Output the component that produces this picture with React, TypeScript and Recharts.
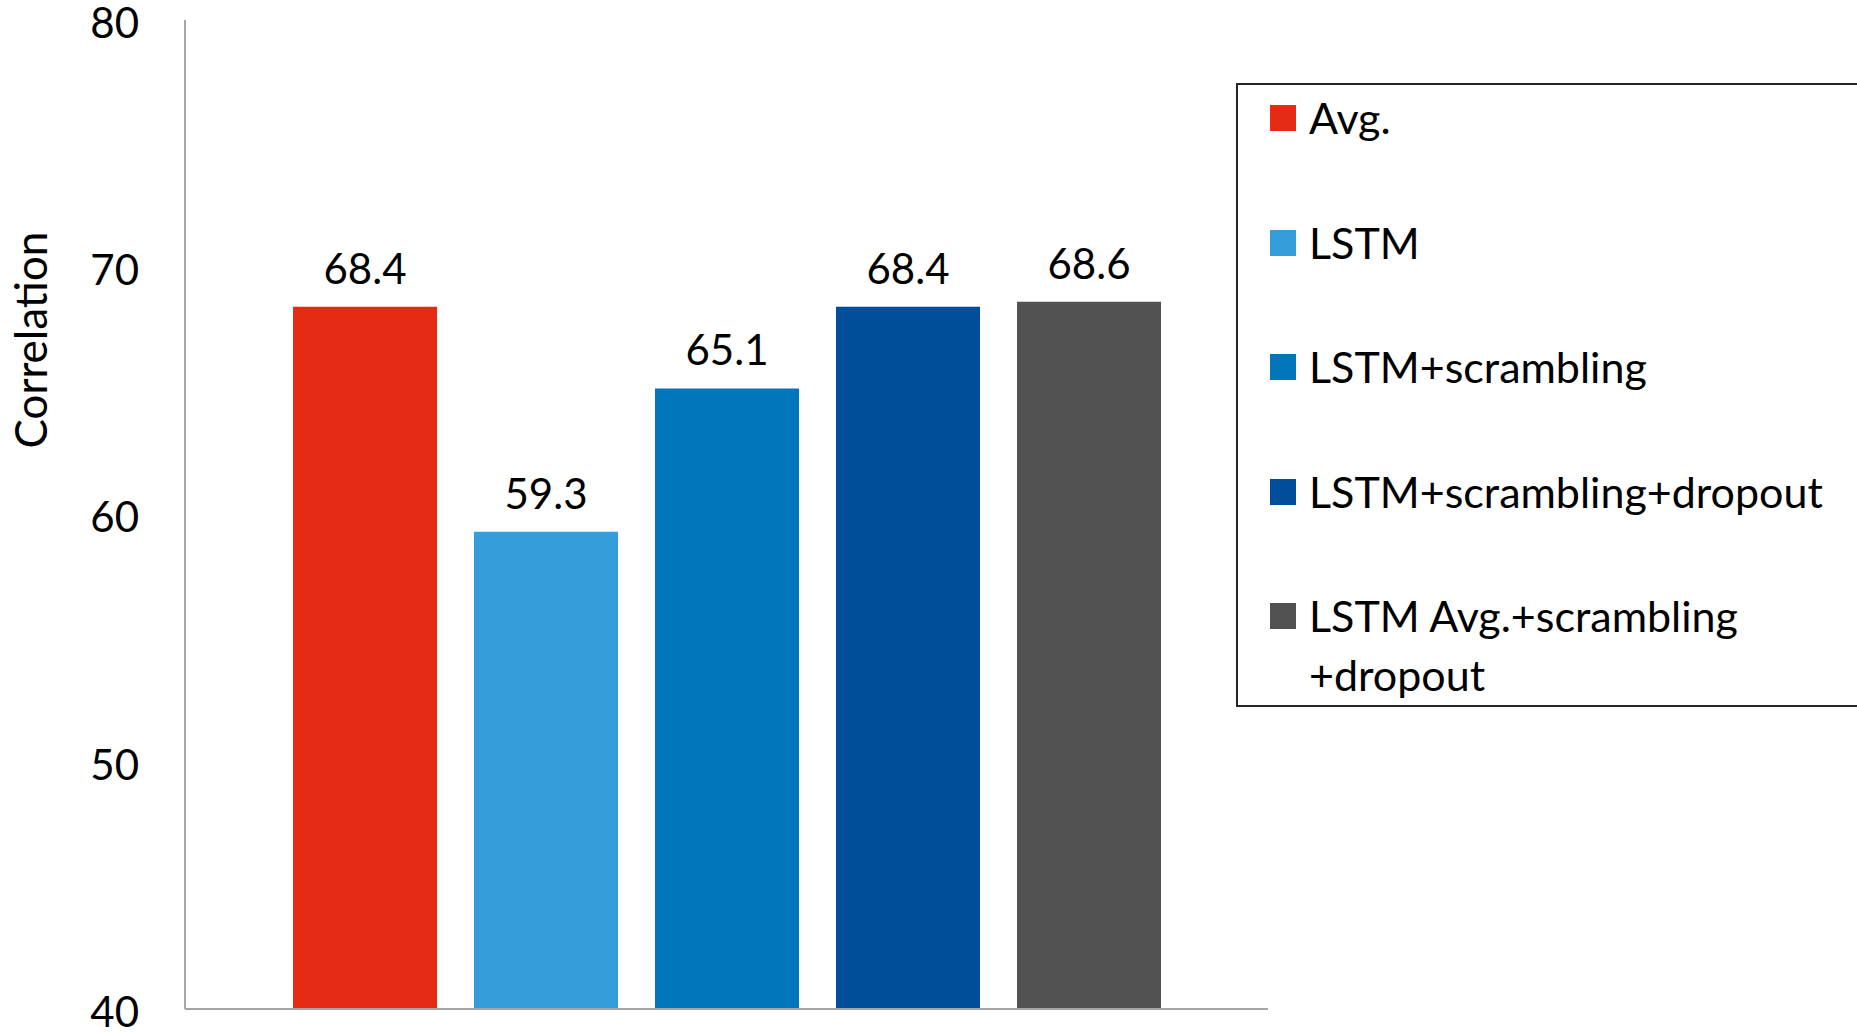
import { BarChart, Bar, XAxis, YAxis, Legend, LabelList, Label } from 'recharts';

const SERIES = [
  'Avg.',
  'LSTM',
  'LSTM+scrambling',
  'LSTM+scrambling+dropout',
  'LSTM Avg.+scrambling +dropout',
];
const KEYS = ['avg', 'lstm', 'lstmScr', 'lstmScrDrop', 'lstmAvgScrDrop'];
const VALUES = [68.4, 59.3, 65.1, 68.4, 68.6];
const COLORS = ['#E52B13', '#339EDA', '#0075BA', '#004E9A', '#525252'];
const Y_TICKS = [40, 50, 60, 70, 80];

const FONT = 'Lato, "Open Sans", sans-serif';
const AXIS_GREY = '#a6a6a6';

// single category, one bar per model
const row: Record<string, string | number> = { name: 'Correlation' };
KEYS.forEach((k, i) => {
  row[k] = VALUES[i];
});
const data = [row];

function LegendBox({ payload }: any) {
  // keep series order rather than alphabetical
  const items = [...(payload || [])].sort(
    (a: any, b: any) => SERIES.indexOf(a.value) - SERIES.indexOf(b.value)
  );
  return (
    <div
      style={{
        border: '2px solid #262626',
        width: 700,
        height: 624,
        boxSizing: 'border-box',
        padding: '3px 0 0 32px',
        fontSize: 43,
        lineHeight: '59px',
        color: '#000',
        fontFamily: FONT,
      }}
    >
      {items.map((entry: any, i: number) => (
        <div key={entry.value} style={{ display: 'flex', alignItems: 'flex-start', marginTop: i === 0 ? 0 : 65.5 }}>
          <span
            style={{
              width: 26,
              height: 26,
              marginTop: 17,
              marginRight: 13,
              background: entry.color,
              flex: 'none',
            }}
          />
          <span style={{ maxWidth: 560, whiteSpace: 'normal' }}>{entry.value}</span>
        </div>
      ))}
    </div>
  );
}

function AxisTitle() {
  return (
    <text
      x={47}
      y={340}
      transform="rotate(-90, 47, 340)"
      textAnchor="middle"
      fontSize={44}
      fill="#000"
      fontFamily={FONT}
    >
      Correlation
    </text>
  );
}

export default function App() {
  return (
    <div
      style={{
        position: 'absolute',
        left: 0,
        top: 0,
        width: 1857,
        height: 1033,
        overflow: 'hidden',
        background: '#fff',
        fontFamily: FONT,
      }}
    >
      <BarChart
        width={1857}
        height={1033}
        data={data}
        margin={{ top: 20, right: 589, bottom: 0, left: 0 }}
        barGap={37}
      >
        <XAxis
          dataKey="name"
          tick={false}
          tickLine={false}
          height={24}
          axisLine={{ stroke: AXIS_GREY, strokeWidth: 2 }}
        />
        <YAxis
          type="number"
          domain={[40, 80]}
          ticks={Y_TICKS}
          interval={0}
          width={185}
          tickLine={false}
          tickSize={0}
          tickMargin={46}
          axisLine={{ stroke: AXIS_GREY, strokeWidth: 2 }}
          tick={{ fontSize: 42, fill: '#000', fontFamily: FONT, dy: 3 }}
        >
          <Label content={<AxisTitle />} />
        </YAxis>
        <Legend
          layout="vertical"
          align="center"
          verticalAlign="middle"
          content={<LegendBox />}
          wrapperStyle={{ left: 1236, top: 83, width: 700, height: 624 }}
        />
        {KEYS.map((k, i) => (
          <Bar key={k} dataKey={k} name={SERIES[i]} fill={COLORS[i]} barSize={144} isAnimationActive={false}>
            <LabelList
              dataKey={k}
              position="top"
              offset={23}
              formatter={(v: any) => Number(v).toFixed(1)}
              style={{ fontSize: 42, fill: '#000', fontFamily: FONT }}
            />
          </Bar>
        ))}
      </BarChart>
    </div>
  );
}
